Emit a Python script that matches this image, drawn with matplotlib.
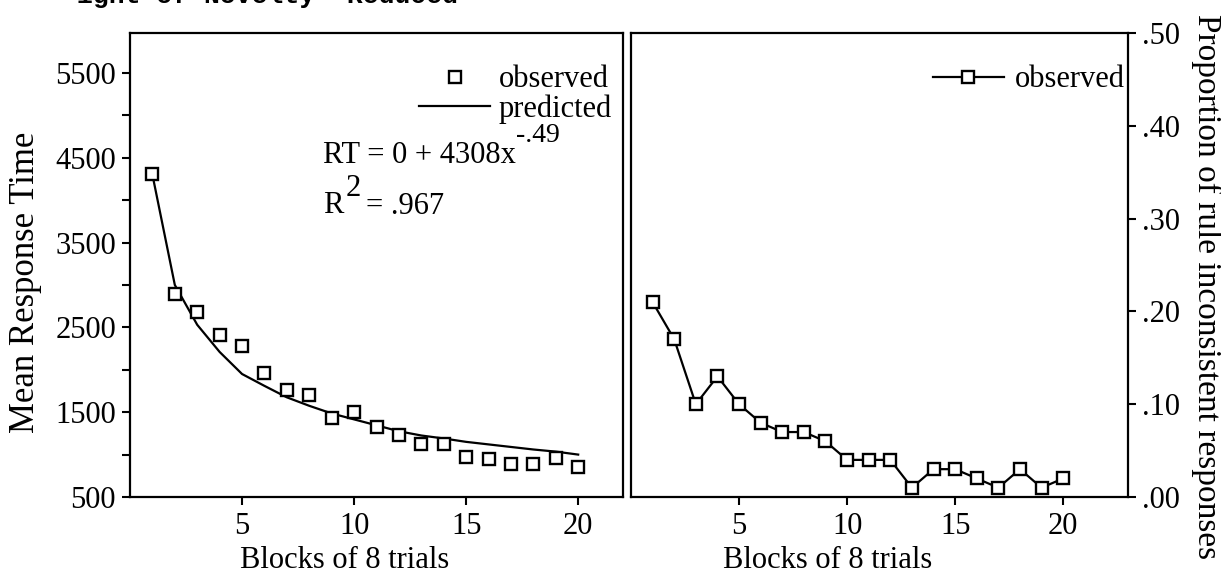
import matplotlib
matplotlib.use('Agg')
import matplotlib.pyplot as plt

# ------------------------------------------------------------
# data
# ------------------------------------------------------------
blocks = list(range(1, 21))
rt_observed = [4310, 2890, 2680, 2410, 2280, 1960, 1760, 1700, 1430, 1500,
               1320, 1230, 1120, 1120, 975, 945, 885, 885, 965, 850]
rt_predicted = [4300, 3000, 2530, 2210, 1950, 1810, 1675, 1575, 1485, 1415,
                1345, 1275, 1225, 1190, 1150, 1120, 1090, 1060, 1035, 1000]
prop_inconsistent = [.21, .17, .10, .13, .10, .08, .07, .07, .06, .04,
                     .04, .04, .01, .03, .03, .02, .01, .03, .01, .02]

rt_ticks = [500, 1500, 2500, 3500, 4500, 5500]
rt_minor = [1000, 2000, 3000, 4000, 5000]
block_ticks = [5, 10, 15, 20]
prop_ticks = [0, .1, .2, .3, .4, .5]
prop_labels = ['.00', '.10', '.20', '.30', '.40', '.50']

plt.rcParams['font.family'] = 'Liberation Serif'

W, H = 1221, 576
fig = plt.figure(figsize=(W / 100, H / 100), dpi=100)
ax1 = fig.add_axes([130 / W, 1 - 497 / H, 493 / W, 464 / H])
ax2 = fig.add_axes([631 / W, 1 - 497 / H, 497 / W, 464 / H])

fs = 22

# ---------------- left panel: response time ----------------
l_pred, = ax1.plot(blocks, rt_predicted, '-', color='k', lw=1.6)
l_obs, = ax1.plot(blocks, rt_observed, 's', mfc='white', mec='k',
                  ms=8.5, mew=1.7, ls='none')
ax1.set_xlim(0, 22)
ax1.set_ylim(500, 5970)
ax1.set_xticks(block_ticks)
ax1.set_yticks(rt_ticks)
ax1.set_yticks(rt_minor, minor=True)
ax1.tick_params(axis='both', which='both', direction='out', width=1.5,
                length=6, labelsize=fs)
ax1.tick_params(axis='y', pad=4)
ax1.tick_params(axis='x', pad=5)
for sp in ax1.spines.values():
    sp.set_linewidth(1.6)

ax1.legend([l_obs, l_pred], ['observed', 'predicted'], loc='upper right',
           bbox_to_anchor=(0.978, 0.93), frameon=False, fontsize=fs,
           borderaxespad=0, borderpad=0, labelspacing=0.0,
           handlelength=2.3, handletextpad=0.3, numpoints=1)

# fit equation, superscripts placed after the base text
t_rt = ax1.text(0.391, 0.72, 'RT = 0 + 4308x', transform=ax1.transAxes,
                fontsize=fs, va='baseline', ha='left')
ax1.annotate('-.49', xy=(1, 0.75), xycoords=t_rt, fontsize=20,
             va='bottom', ha='left')
t_r2 = ax1.text(0.391, 0.612, 'R', transform=ax1.transAxes,
                fontsize=fs, va='baseline', ha='left')
t_sq = ax1.annotate('2', xy=(1.1, 0.6), xycoords=t_r2, fontsize=fs,
                    va='bottom', ha='left')
ax1.annotate('= .967', xy=(1.0, 0.0), xycoords=t_sq, fontsize=fs,
             xytext=(4, -13), textcoords='offset points',
             va='bottom', ha='left')

# ---------------- right panel: rule inconsistent responses ----------------
ax2.plot(blocks, prop_inconsistent, '-s', color='k', lw=1.6, mfc='white',
         mec='k', ms=8.5, mew=1.7, label='observed')
ax2.set_xlim(0, 23)
ax2.set_ylim(0, 0.5)
ax2.set_xticks(block_ticks)
ax2.yaxis.tick_right()
ax2.set_yticks(prop_ticks)
ax2.set_yticklabels(prop_labels)
ax2.tick_params(axis='both', direction='out', width=1.5, length=6,
                labelsize=fs)
ax2.tick_params(axis='y', pad=4)
ax2.tick_params(axis='x', pad=5)
for sp in ax2.spines.values():
    sp.set_linewidth(1.6)

ax2.legend(loc='upper right', bbox_to_anchor=(0.994, 0.93), frameon=False,
           fontsize=fs, borderaxespad=0, borderpad=0,
           handlelength=2.35, handletextpad=0.35, numpoints=1)

# axis labels
fig.text(26 / W, 1 - 282 / H, 'Mean Response Time', rotation=90,
         ha='center', va='center', fontsize=25)
fig.text(1207 / W, 1 - 287 / H, 'Proportion of rule inconsistent responses',
         rotation=270, ha='center', va='center', fontsize=24)
fig.text(345 / W, 1 - 560 / H, 'Blocks of 8 trials', ha='center',
         va='center', fontsize=fs)
fig.text(828 / W, 1 - 560 / H, 'Blocks of 8 trials', ha='center',
         va='center', fontsize=fs)

# caption line cut off at the top of the scan
fig.text(77 / W, 1 - 3 / H, 'ight of Novelty  Reduced', family='Liberation Mono',
         weight='bold', fontsize=19, ha='left', va='baseline')

fig.savefig('out.png', dpi=100)
